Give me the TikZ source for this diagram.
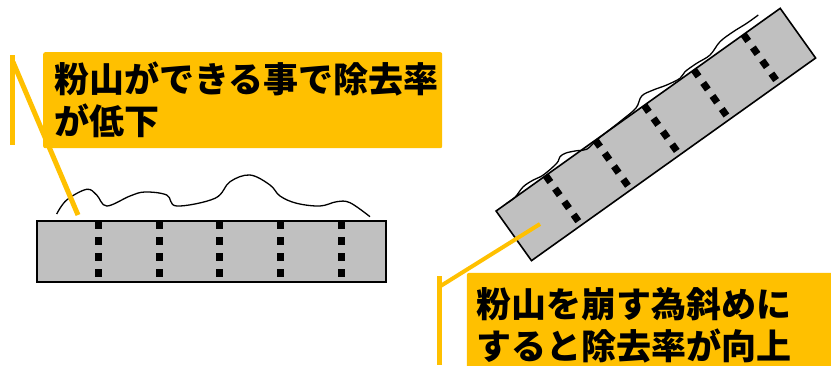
\documentclass[tikz,border=0pt]{standalone}
\usepackage{fontspec}
\usetikzlibrary{calc}
\newfontfamily\cjk{Noto Sans CJK JP}[BoldFont={Noto Sans CJK JP Black}]
\definecolor{callyellow}{HTML}{FFC000}
\definecolor{plate}{HTML}{C0C0C0}
\begin{document}
\begin{tikzpicture}[x=1pt,y=-1pt,
  callout/.style={fill=callyellow, rounded corners=2pt, anchor=north west, inner sep=0pt,
    align=left, font={\cjk\bfseries\fontsize{35}{42}\selectfont}},
  leader/.style={draw=callyellow, line width=5pt},
  plateshape/.style={draw=black, line width=1.6pt, fill=plate},
  holes/.style={line width=7pt, dash pattern=on 8pt off 8pt},
  wave/.style={draw=black, line width=1.3pt}]
\useasboundingbox (0,0) rectangle (831,365);

% left plate
\node[plateshape, minimum width=349, minimum height=61, inner sep=0pt] (lp) at (211.5,251.5) {};
\foreach \dx [count=\i] in {-113.5,-52.5,7.5,68.5,129.5}{
  \coordinate (lt\i) at ($(lp.center)+(\dx,-30.5)$);
  \coordinate (lb\i) at ($(lp.center)+(\dx,30.5)$);
  \draw[holes] (lt\i) -- (lb\i);
}
\draw[wave] plot[smooth, tension=0.6] coordinates {(56.7,214) (66.7,200) (86.7,189.3) (96.7,195) (106.7,206) (130,196) (145,192) (166.7,195) (176.7,206) (215,198.3) (230,181.7) (250,175) (270,185) (280,196) (296.7,203.3) (320,206) (336.7,201.7) (350,202.7) (370,216.7)};

% right plate (tilted)
\begin{scope}[shift={(655.85,134.5)}, rotate=35.5]
  \node[plateshape, minimum width=349, minimum height=61, inner sep=0pt, rotate=35.5] (rp) at (0,0) {};
  \foreach \dx [count=\i] in {-113.5,-52.5,7.5,68.5,129.5}{
    \coordinate (rt\i) at (\dx,-30.5);
    \coordinate (rb\i) at (\dx,30.5);
    \draw[holes] (rt\i) -- (rb\i);
  }
\end{scope}
\draw[wave] plot[smooth, tension=0.6] coordinates {(506.7,203.3) (515,197.3) (523.3,186.7) (533.3,180) (543.3,175) (556.7,163.3) (560,156.7) (566,153) (576.7,150.7) (586.7,149.3) (596.7,140) (608,131) (622,120) (636,108) (641.7,96) (653.3,90) (666.7,85) (680,78.3) (685,71.7) (696.7,63.3) (710,55) (720,41.7) (733.3,31.7) (746.7,23.3) (758.3,15)};

% left callout
\node[callout, minimum width=399, minimum height=96, text width=395] (lc) at (43,52) {\hspace*{9pt}粉山ができる事で除去率\\\hspace*{9pt}が低下};
\coordinate (lbarT) at (12,55);
\coordinate (lbarB) at (12,145);
\coordinate (ltip) at (78,215);
\draw[leader] (lbarT) -- (lbarB);
\draw[leader] (13,62) -- (ltip);

% right callout
\node[callout, minimum width=380, minimum height=105, text width=376] (rc) at (466.7,272.7) {\hspace*{8pt}粉山を崩す為斜めに\\\hspace*{8pt}すると除去率が向上};
\coordinate (rbarT) at (439,276);
\coordinate (rbarB) at (439,365);
\coordinate (rtip) at (540,224);
\draw[leader] (rbarT) -- (rbarB);
\draw[leader, line width=4pt] (439,287) -- (rtip);
\end{tikzpicture}
\end{document}
